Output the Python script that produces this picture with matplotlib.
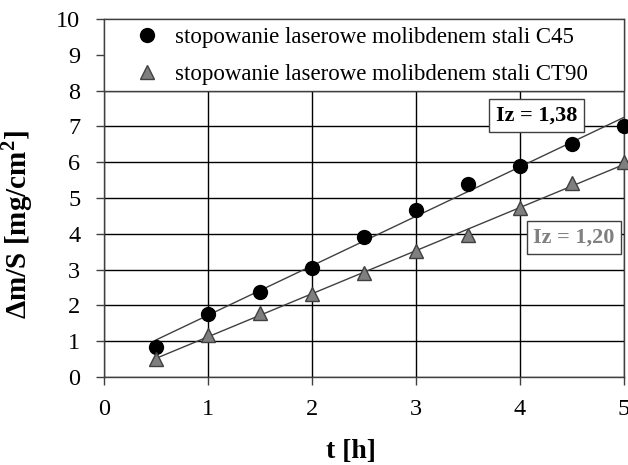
import numpy as np
import matplotlib
matplotlib.use("Agg")
import matplotlib.pyplot as plt
from matplotlib.patches import Rectangle

plt.rcParams['font.family'] = ['Liberation Serif', 'DejaVu Serif']
plt.rcParams['mathtext.fontset'] = 'custom'
plt.rcParams['mathtext.rm'] = 'Liberation Serif'
plt.rcParams['mathtext.bf'] = 'Liberation Serif:bold'

t_hours = [0.5, 1.0, 1.5, 2.0, 2.5, 3.0, 3.5, 4.0, 4.5, 5.0]
c45 = [0.85, 1.77, 2.38, 3.04, 3.92, 4.67, 5.39, 5.90, 6.52, 7.00]
ct90 = [0.50, 1.17, 1.80, 2.31, 2.90, 3.53, 3.96, 4.71, 5.41, 6.00]
labels = ["stopowanie laserowe molibdenem stali C45",
          "stopowanie laserowe molibdenem stali CT90"]
annot_c45 = "Iz = 1,38"
annot_ct90 = "Iz = 1,20"
x_ticks = [0, 1, 2, 3, 4, 5]
y_ticks = [0, 1, 2, 3, 4, 5, 6, 7, 8, 9, 10]

fig = plt.figure(figsize=(6.28, 4.65), dpi=100)
ax = fig.add_axes([104/628, 1-377/465, 520/628, 358/465])

ax.set_xlim(0, 5)
ax.set_ylim(0, 10)
ax.set_xticks(x_ticks)
ax.set_yticks(y_ticks)
ax.grid(True, color='black', linewidth=1.0, zorder=0)
ax.set_axisbelow(True)
for s in ax.spines.values():
    s.set_color('#404040')
    s.set_linewidth(1.0)
ax.tick_params(axis='both', direction='out', length=6, width=1, color='#404040',
               labelsize=17.5)
ax.tick_params(axis='x', pad=10)
ax.tick_params(axis='y', pad=11)

x = np.array(t_hours)
for y in (c45, ct90):
    k, b = np.polyfit(x, np.array(y), 1)
    xs = np.array([x.min(), x.max()])
    ax.plot(xs, k*xs + b, color='#404040', linewidth=1.0, zorder=2, clip_on=False)

h1, = ax.plot(t_hours, c45, linestyle='none', marker='o', markersize=10,
              markerfacecolor='black', markeredgecolor='black', zorder=3, clip_on=False)
h2, = ax.plot(t_hours, ct90, linestyle='none', marker='^', markersize=10.5,
              markerfacecolor='#7f7f7f', markeredgecolor='#404040', zorder=3, clip_on=False)

# legend box covering top region
ax.add_patch(Rectangle((0, 0.8), 1.0, 0.2, transform=ax.transAxes, facecolor='white',
                       edgecolor='#404040', linewidth=1.0, zorder=4, clip_on=False))
leg = ax.legend([h1, h2], labels, loc='upper left', bbox_to_anchor=(0.043, 1.003),
                frameon=False, fontsize=16.5, handletextpad=0.72, labelspacing=0.69,
                handlelength=1.0, borderaxespad=0)
leg.set_zorder(5)

ax.text(4.16, 7.31, annot_c45, fontsize=16, fontweight='bold', color='black',
        ha='center', va='center', zorder=6,
        bbox=dict(boxstyle='square,pad=0.3', facecolor='white', edgecolor='#404040', linewidth=1.0))
ax.text(4.52, 3.89, annot_ct90, fontsize=16, fontweight='bold', color='#808080',
        ha='center', va='center', zorder=6,
        bbox=dict(boxstyle='square,pad=0.3', facecolor='white', edgecolor='#404040', linewidth=1.0))

ax.set_xlabel("t [h]", fontsize=20, fontweight='bold')
ax.xaxis.set_label_coords(0.475, -0.172)
ax.set_ylabel(r"Δm/S [mg/cm$^{\mathbf{2}}$]", fontsize=21, fontweight='bold')
ax.yaxis.set_label_coords(-0.133, 0.427)

fig.savefig("out.png", dpi=100)
